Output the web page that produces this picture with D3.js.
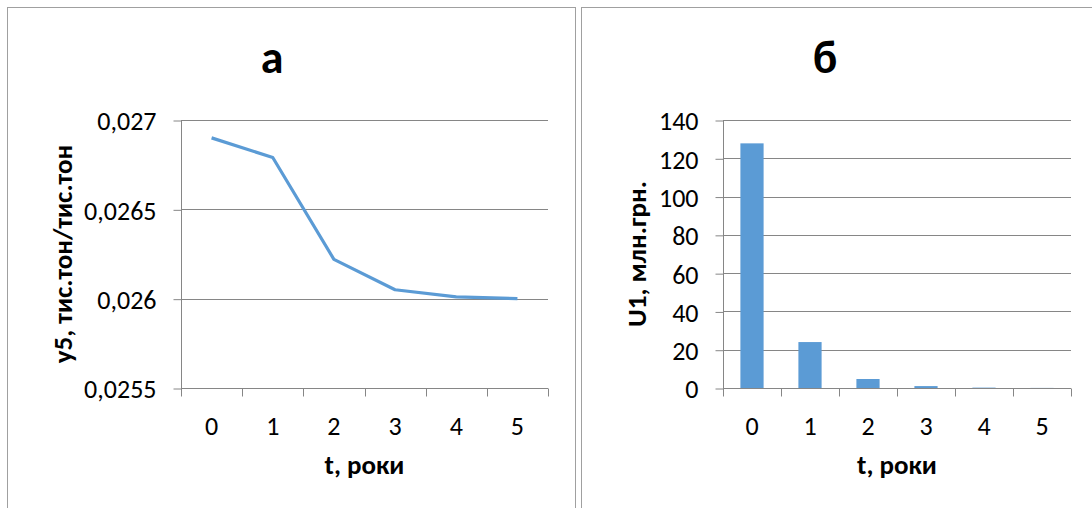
<!DOCTYPE html>
<html>
<head>
<meta charset="utf-8">
<script src="https://cdn.jsdelivr.net/npm/d3@7"></script>
<style>
  html, body { margin: 0; padding: 0; background: #fff; }
  svg { display: block; }
  text { font-family: Calibri, Carlito, Lato, sans-serif; fill: #000; }
</style>
</head>
<body>
<svg id="chart" width="1092" height="508"></svg>
<script>
// ---- data ----
const years = ["0", "1", "2", "3", "4", "5"];
const y5Values = [0.02690, 0.02679, 0.02622, 0.02605, 0.02601, 0.02600];
const y5Ticks = [0.0255, 0.026, 0.0265, 0.027];
const y5TickLabels = ["0,0255", "0,026", "0,0265", "0,027"];
const u1Values = [127.8, 24.0, 4.7, 1.0, 0.2, 0.05];
const u1Ticks = [0, 20, 40, 60, 80, 100, 120, 140];
const u1TickLabels = ["0", "20", "40", "60", "80", "100", "120", "140"];
const titleA = "а";
const titleB = "б";
const xTitle = "t, роки";
const yTitleA = "у5, тис.тон/тис.тон";
const yTitleB = "U1, млн.грн.";

const svg = d3.select("#chart");
const gridColor = "#868686";
const seriesColor = "#5B9BD5";
const borderColor = "#a0a0a0";

// panel borders
svg.append("rect").attr("x", 7.5).attr("y", 7.5).attr("width", 568).attr("height", 520)
  .attr("fill", "none").attr("stroke", borderColor).attr("stroke-width", 1);
svg.append("rect").attr("x", 581.5).attr("y", 7.5).attr("width", 530).attr("height", 520)
  .attr("fill", "none").attr("stroke", borderColor).attr("stroke-width", 1);

function drawPanel(cfg) {
  const g = svg.append("g");
  const x = d3.scaleBand().domain(years).range([cfg.x0, cfg.x1]).padding(0);
  const y = d3.scaleLinear().domain(cfg.yDomain).range([388, 120]);

  // gridlines
  g.selectAll(".grid").data(cfg.yTicks.slice(1)).enter().append("line")
    .attr("x1", cfg.x0).attr("x2", cfg.x1)
    .attr("y1", d => Math.round(y(d)) + 0.5).attr("y2", d => Math.round(y(d)) + 0.5)
    .attr("stroke", gridColor).attr("stroke-width", 1);

  // y axis
  const yAxis = d3.axisLeft(y).tickValues(cfg.yTicks)
    .tickFormat((d, i) => cfg.yLabels[i]).tickSize(8).tickPadding(17);
  const ya = g.append("g").attr("transform", `translate(${cfg.x0 + 0.5},0.5)`).call(yAxis);
  ya.select(".domain").attr("stroke", gridColor).attr("d", `M0,${y(cfg.yDomain[1])}V${y(cfg.yDomain[0])}`);
  ya.selectAll(".tick line").attr("stroke", gridColor);
  ya.selectAll(".tick text").style("font-size", "26px").attr("fill", "#000").attr("dy", "0.36em");

  // x axis
  const xAxis = d3.axisBottom(x).tickSize(0).tickPadding(28);
  const xa = g.append("g").attr("transform", `translate(0,${Math.round(y(cfg.yDomain[0])) + 0.5})`).call(xAxis);
  xa.select(".domain").attr("stroke", gridColor).attr("d", `M${cfg.x0},0H${cfg.x1}`);
  xa.selectAll(".tick line").remove();
  xa.selectAll(".tick text").style("font-size", "26px").attr("fill", "#000");
  // x tick marks at band boundaries
  const bounds = years.map(d => x(d)).concat([cfg.x1]);
  xa.selectAll(".xt").data(bounds).enter().append("line")
    .attr("x1", d => Math.round(d) + 0.5).attr("x2", d => Math.round(d) + 0.5)
    .attr("y1", 0).attr("y2", 8).attr("stroke", gridColor);

  cfg.marks(g, x, y);

  // titles
  g.append("text").attr("x", cfg.titleX).attr("y", 73).attr("text-anchor", "middle")
    .style("font-size", "46px").style("font-weight", "bold").text(cfg.title);
  g.append("text").attr("x", (cfg.x0 + cfg.x1) / 2).attr("y", 474).attr("text-anchor", "middle")
    .style("font-size", "27px").style("font-weight", "bold").text(xTitle);
  g.append("text").attr("transform", `translate(${cfg.yTitleX},254) rotate(-90)`)
    .attr("text-anchor", "middle").attr("dy", "0.35em")
    .style("font-size", "27px").style("font-weight", "bold").text(cfg.yTitle);
}

drawPanel({
  x0: 181, x1: 548, yDomain: [0.0255, 0.027], yTicks: y5Ticks, yLabels: y5TickLabels,
  title: titleA, titleX: 272, yTitle: yTitleA, yTitleX: 63,
  marks: (g, x, y) => {
    const line = d3.line().x((d, i) => x(years[i]) + x.bandwidth() / 2).y(d => y(d));
    g.append("path").datum(y5Values).attr("d", line).attr("fill", "none")
      .attr("stroke", seriesColor).attr("stroke-width", 3.2).attr("stroke-linejoin", "round");
  }
});

drawPanel({
  x0: 723, x1: 1071, yDomain: [0, 140], yTicks: u1Ticks, yLabels: u1TickLabels,
  title: titleB, titleX: 825, yTitle: yTitleB, yTitleX: 637,
  marks: (g, x, y) => {
    const bw = x.bandwidth() * 0.4;
    g.selectAll(".bar").data(u1Values).enter().append("rect")
      .attr("x", (d, i) => x(years[i]) + (x.bandwidth() - bw) / 2)
      .attr("width", bw)
      .attr("y", d => y(d))
      .attr("height", d => y(0) - y(d))
      .attr("fill", seriesColor);
  }
});
</script>
</body>
</html>
